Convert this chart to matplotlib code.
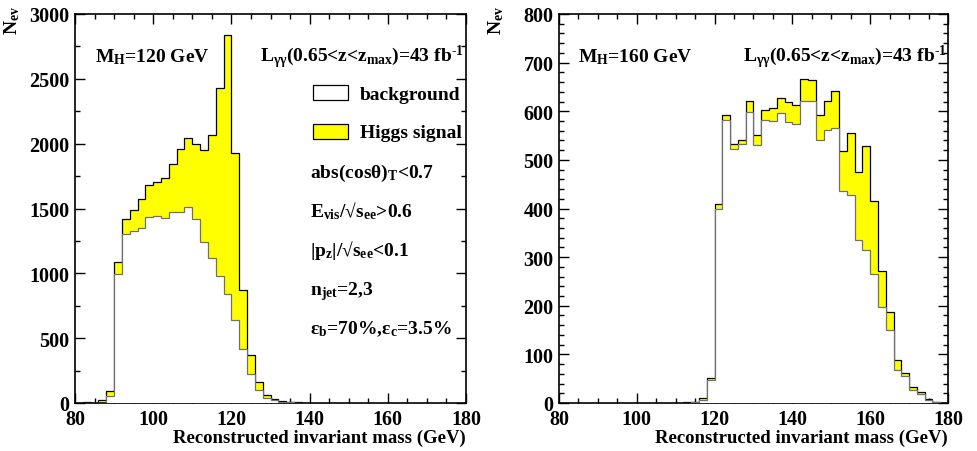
import numpy as np
import matplotlib
matplotlib.use("Agg")
import matplotlib.pyplot as plt
from matplotlib.ticker import MultipleLocator
from matplotlib.patches import Rectangle

plt.rcParams['font.family'] = ['Liberation Serif', 'DejaVu Serif']
plt.rcParams['font.weight'] = 'bold'
plt.rcParams['mathtext.fontset'] = 'custom'
plt.rcParams['mathtext.rm'] = 'Liberation Serif:bold'
plt.rcParams['mathtext.it'] = 'Liberation Serif:bold'
plt.rcParams['mathtext.bf'] = 'Liberation Serif:bold'
plt.rcParams['mathtext.default'] = 'rm'

# ---- data: 2 GeV bins from 80 to 180 GeV ----
mass_edges = np.arange(80, 182, 2)

# M_H = 120 GeV panel
bkg_120 = [0, 1, 0, 3, 54, 995, 1300, 1326, 1349, 1434,
           1439, 1426, 1473, 1473, 1514, 1416, 1241, 1120, 979, 840,
           642, 419, 226, 98, 41, 20, 8, 5, 3, 2,
           1, 0, 0, 0, 0, 0, 0, 0, 0, 0,
           0, 0, 0, 0, 0, 0, 0, 0, 0, 0]
sig_120 = [0, 4, 0, 17, 38, 90, 121, 162, 226, 244,
           265, 309, 372, 483, 532, 578, 707, 944, 1450, 1995,
           1288, 455, 141, 64, 18, 13, 7, 3, 2, 1,
           1, 0, 0, 0, 0, 0, 0, 0, 0, 0,
           0, 0, 0, 0, 0, 0, 0, 0, 0, 0]

# M_H = 160 GeV panel
bkg_160 = [0, 0, 0, 0, 0, 0, 0, 0, 0, 0,
           0, 0, 0, 0, 0, 0, 1, 2, 7, 48,
           400, 582, 523, 532, 599, 531, 581, 579, 596, 578,
           574, 621, 621, 540, 562, 566, 435, 428, 336, 315,
           266, 197, 151, 68, 55, 27, 18, 7, 2, 1]
sig_160 = [0, 0, 0, 0, 0, 0, 0, 0, 0, 0,
           0, 0, 0, 0, 0, 1, 1, 1, 3, 4,
           9, 11, 10, 8, 23, 20, 21, 27, 31, 41,
           39, 46, 43, 52, 59, 76, 84, 127, 139, 214,
           149, 75, 36, 20, 7, 6, 4, 2, 1, 0]

cut_lines = [r'abs(cosθ)$_{\rm T}$<0.7',
             r'E$_{\rm vis}$/√s$_{\rm ee}$>0.6',
             r'|p$_{\rm z}$|/√s$_{\rm ee}$<0.1',
             r'n$_{\rm jet}$=2,3',
             r'ε$_{\rm b}$=70%,ε$_{\rm c}$=3.5%']

W, H = 978, 452
fig = plt.figure(figsize=(W / 100, H / 100), dpi=100)

def px_axes(x0, x1, ytop, ybot):
    return fig.add_axes([x0 / W, (H - ybot) / H, (x1 - x0) / W, (ybot - ytop) / H])

ax1 = px_axes(75, 466, 15, 404)
ax2 = px_axes(559, 948, 15, 404)

def draw_panel(ax, bkg, sig, ymax, ymajor, yminor, mh_label):
    bkg = np.array(bkg, float)
    tot = bkg + np.array(sig, float)
    ax.stairs(tot, mass_edges, fill=True, facecolor='#ffff00', edgecolor='none', zorder=1)
    ax.stairs(tot, mass_edges, color='black', lw=0.9, baseline=0, zorder=2)
    ax.stairs(bkg, mass_edges, fill=True, facecolor='white', edgecolor='none', zorder=3)
    ax.stairs(bkg, mass_edges, color='#707070', lw=0.9, baseline=0, zorder=4)
    ax.set_xlim(80, 180)
    ax.set_ylim(0, ymax)
    ax.xaxis.set_major_locator(MultipleLocator(20))
    ax.xaxis.set_minor_locator(MultipleLocator(5))
    ax.yaxis.set_major_locator(MultipleLocator(ymajor))
    ax.yaxis.set_minor_locator(MultipleLocator(yminor))
    ax.tick_params(which='both', direction='in', top=True, right=True,
                   labelsize=14.5, width=1.0)
    ax.tick_params(which='major', length=7)
    ax.tick_params(axis='y', which='major', pad=4)
    ax.tick_params(axis='x', which='major', pad=4)
    ax.tick_params(which='minor', length=3.5)
    for lab in ax.get_xticklabels() + ax.get_yticklabels():
        lab.set_fontweight('bold')
    for sp in ax.spines.values():
        sp.set_linewidth(1.2)
    ax.set_xlabel('Reconstructed invariant mass (GeV)', fontsize=13.5,
                  fontweight='bold', loc='right', labelpad=0)
    ax.text(0.05, 0.879, mh_label, transform=ax.transAxes, fontsize=14,
            fontweight='bold', va='baseline', ha='left')
    ax.text(0.472, 0.879, r'L$_{γγ}$(0.65<z<z$_{\rm max}$)=43 fb$^{\text{-1}}$',
            transform=ax.transAxes, fontsize=14, fontweight='bold',
            va='baseline', ha='left')

draw_panel(ax1, bkg_120, sig_120, 3000, 500, 250, r'M$_{\rm H}$=120 GeV')
draw_panel(ax2, bkg_160, sig_160, 800, 100, 20, r'M$_{\rm H}$=160 GeV')

# legend-like boxes in left panel
ax1.add_patch(Rectangle((0.609, 0.779), 0.09, 0.038, transform=ax1.transAxes,
                        facecolor='white', edgecolor='black', lw=0.9, zorder=5))
ax1.add_patch(Rectangle((0.609, 0.679), 0.09, 0.038, transform=ax1.transAxes,
                        facecolor='#ffff00', edgecolor='black', lw=0.9, zorder=5))
ax1.text(0.729, 0.781, 'background', transform=ax1.transAxes, fontsize=14,
         fontweight='bold', va='baseline', ha='left', zorder=6)
ax1.text(0.729, 0.684, 'Higgs signal', transform=ax1.transAxes, fontsize=14,
         fontweight='bold', va='baseline', ha='left', zorder=6)

cut_y = [0.581, 0.481, 0.380, 0.280, 0.180]
for txt, yy in zip(cut_lines, cut_y):
    ax1.text(0.601, yy, txt, transform=ax1.transAxes, fontsize=14,
             fontweight='bold', va='baseline', ha='left', zorder=6)

# y-axis titles
fig.text(12 / W, 1 - 6 / H, r'N$_{\rm ev}$', rotation=90, ha='center', va='top',
         fontsize=14, fontweight='bold')
fig.text(496 / W, 1 - 6 / H, r'N$_{\rm ev}$', rotation=90, ha='center', va='top',
         fontsize=14, fontweight='bold')

fig.savefig('out.png', dpi=100)
